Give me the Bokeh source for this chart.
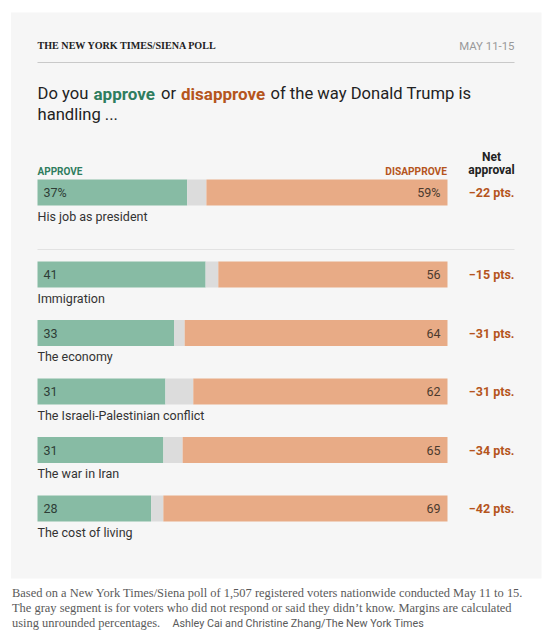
from bokeh.plotting import figure
from bokeh.models import Range1d, Label, ColumnDataSource
from bokeh.core.properties import value
from bokeh.embed import file_html
from bokeh.resources import INLINE

categories = ["His job as president", "Immigration", "The economy",
              "The Israeli-Palestinian conflict", "The war in Iran", "The cost of living"]
approve = [36.5, 41.0, 33.3, 31.2, 30.7, 27.7]
disapprove = [58.8, 55.9, 64.1, 62.0, 64.6, 69.3]
approve_labels = ["37%", "41", "33", "31", "31", "28"]
disapprove_labels = ["59%", "56", "64", "62", "65", "69"]
net_labels = ["\u221222 pts.", "\u221215 pts.", "\u221231 pts.", "\u221231 pts.", "\u221234 pts.", "\u221242 pts."]
footer_lines = ["Based on a New York Times/Siena poll of 1,507 registered voters nationwide conducted May 11 to 15.",
                "The gray segment is for voters who did not respond or said they didn\u2019t know. Margins are calculated",
                "using unrounded percentages."]
credit = "Ashley Cai and Christine Zhang/The New York Times"

GREEN, ORANGE, GRAY = "#87bba4", "#e8ab86", "#dcdcdc"
T_GREEN, T_ORANGE = "#2f7d5e", "#b5551d"
SANS = "Roboto"

BAR_L, PX_PER_PCT = 37.0, 4.10
def px(x):
    return (x - BAR_L) / PX_PER_PCT

p = figure(width=550, height=638, output_backend="svg", toolbar_location=None,
           x_range=Range1d(px(0), px(550)), y_range=Range1d(638, 0),
           min_border=0, background_fill_color="white", border_fill_color="white",
           outline_line_color=None)
p.axis.visible = False
p.grid.visible = False

# panel
p.quad(left=[px(10.5)], right=[px(541)], top=[12], bottom=[578], fill_color="#f6f6f6", line_color=None)

# rules
p.segment(x0=[px(37)], x1=[px(514)], y0=[62], y1=[62], line_color="#c9c9c9", line_width=1)
p.segment(x0=[px(37)], x1=[px(514)], y0=[249], y1=[249], line_color="#e2e2e2", line_width=1)

# rows
y0, first_gap, step = 192.0, 82.0, 58.5
ys = [y0] + [y0 + first_gap + step * i for i in range(len(categories) - 1)]
right_of_gray = [100 - d for d in disapprove]
src = ColumnDataSource(dict(y=ys, a=approve, rg=right_of_gray, zero=[0] * 6, full=[100] * 6,
                            cat=categories, al=approve_labels, dl=disapprove_labels, net=net_labels,
                            ycat=[y + 23.5 for y in ys],
                            ax=[px(43)] * 6, dx=[px(440)] * 6, nx=[px(514)] * 6))
H = 26
p.hbar(y="y", left="zero", right="a", height=H, fill_color=GREEN, line_color=None, source=src)
p.hbar(y="y", left="a", right="rg", height=H, fill_color=GRAY, line_color=None, source=src)
p.hbar(y="y", left="rg", right="full", height=H, fill_color=ORANGE, line_color=None, source=src)

p.text(x="ax", y="y", text="al", source=src, text_font=value(SANS), text_font_size=value("12.5px"), text_color="#2e3d36",
       text_align="left", text_baseline="middle")
p.text(x="dx", y="y", text="dl", source=src, text_font=value(SANS), text_font_size=value("12.5px"), text_color="#4a3a2e",
       text_align="right", text_baseline="middle")
p.text(x="nx", y="y", text="net", source=src, text_font=value(SANS), text_font_style="bold", text_font_size=value("12.5px"),
       text_color=T_ORANGE, text_align="right", text_baseline="middle")
p.text(x="zero", y="ycat", text="cat", source=src, text_font=value(SANS), text_font_size=value("12.5px"), text_color="#333333",
       text_align="left", text_baseline="middle")

def lab(text, x, y, size, color="#222222", font=SANS, style="normal", align="left"):
    p.add_layout(Label(x=px(x), y=y, text=text, text_font=font, text_font_size=size, text_color=color,
                       text_font_style=style, text_align=align, text_baseline="middle"))

lab("THE NEW YORK TIMES/SIENA POLL", 37, 45, "10.1px", "#222222", "Liberation Serif", "bold")
lab("MAY 11-15", 514, 45, "11.4px", "#999999", align="right")

lab("Do you", 37, 93.3, "16.6px")
lab("approve", 93, 93.3, "17px", T_GREEN, style="bold")
lab("or", 160.5, 93.3, "16.6px")
lab("disapprove", 180.5, 93.3, "17px", T_ORANGE, style="bold")
lab("of the way Donald Trump is", 270, 93.3, "16.6px")
lab("handling ...", 37, 114.3, "16.6px")

lab("APPROVE", 37, 170.7, "10px", T_GREEN, style="bold")
lab("DISAPPROVE", 446.5, 170.7, "10.2px", T_ORANGE, style="bold", align="right")
lab("Net", 491, 156.7, "12px", style="bold", align="center")
lab("approval", 491, 169, "12px", style="bold", align="center")

for i, line in enumerate(footer_lines):
    lab(line, 11.5, 592.7 + 15 * i, "12.45px", "#5a5a5a", "Liberation Serif")
lab(credit, 172, 622.7, "10.75px", "#5a5a5a")

open("out.html", "w").write(file_html(p, INLINE))
